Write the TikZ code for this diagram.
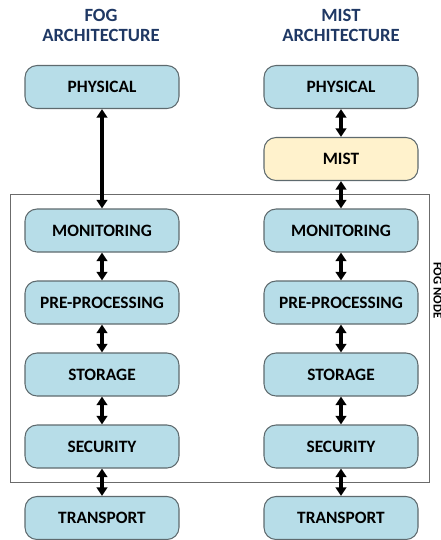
\documentclass[tikz,border=0pt]{standalone}
\usepackage{fontspec}
\setmainfont{Carlito}
\usetikzlibrary{arrows.meta}
\definecolor{boxblue}{HTML}{B7DDE8}
\definecolor{boxedge}{HTML}{5E6A6E}
\definecolor{mistfill}{HTML}{FFF2CC}
\definecolor{titleblue}{HTML}{1F3864}
\definecolor{frameedge}{HTML}{6B6B6B}
\begin{document}
\begin{tikzpicture}[x=0.75pt,y=-0.75pt,
  layer/.style={draw=boxedge, line width=0.8pt, fill=boxblue, rounded corners=9pt,
    minimum width=115.5pt, minimum height=32.25pt, inner sep=0pt,
    font=\fontsize{13}{15}\selectfont\bfseries, text=black},
  mistlayer/.style={layer, fill=mistfill},
  frame/.style={draw=frameedge, line width=0.75pt, minimum width=314.25pt,
    minimum height=216pt, inner sep=0pt},
  link/.style={line width=2.3pt,
    {Triangle[width=8pt,length=6.5pt]}-{Triangle[width=8pt,length=6.5pt]}},
  heading/.style={font=\fontsize{14}{15}\selectfont\bfseries, text=titleblue, align=center},
  sidelabel/.style={font=\fontsize{9.5}{10}\selectfont\bfseries, text=black, inner sep=0pt},
]
\useasboundingbox (0,0) rectangle (441,540);

% fog node boundary
\node[frame] (fognode) at (219.5,338) {};
\node[sidelabel, rotate=-90, anchor=base west] (fogtag) at (433.5,262) {FOG NODE};

% headings
\node[heading] (fogtitle) at (101,25) {FOG\\ARCHITECTURE};
\node[heading] (misttitle) at (341,25) {MIST\\ARCHITECTURE};

% fog stack
\node[layer] (fphys) at (102,87) {PHYSICAL};
\node[layer] (fmon)  at (102,230.5) {MONITORING};
\node[layer] (fpre)  at (102,302.5) {PRE-PROCESSING};
\node[layer] (fsto)  at (102,374.5) {STORAGE};
\node[layer] (fsec)  at (102,446.5) {SECURITY};
\node[layer] (ftra)  at (102,518) {TRANSPORT};

% mist stack
\node[layer] (mphys) at (341,87) {PHYSICAL};
\node[mistlayer] (mmist) at (341,159) {MIST};
\node[layer] (mmon)  at (341,230.5) {MONITORING};
\node[layer] (mpre)  at (341,302.5) {PRE-PROCESSING};
\node[layer] (msto)  at (341,374.5) {STORAGE};
\node[layer] (msec)  at (341,446.5) {SECURITY};
\node[layer] (mtra)  at (341,518) {TRANSPORT};

% links
\foreach \a/\b in {fphys/fmon, fmon/fpre, fpre/fsto, fsto/fsec, fsec/ftra,
                   mphys/mmist, mmist/mmon, mmon/mpre, mpre/msto, msto/msec, msec/mtra}
  \draw[link] (\a.south) -- (\b.north);
\end{tikzpicture}
\end{document}
